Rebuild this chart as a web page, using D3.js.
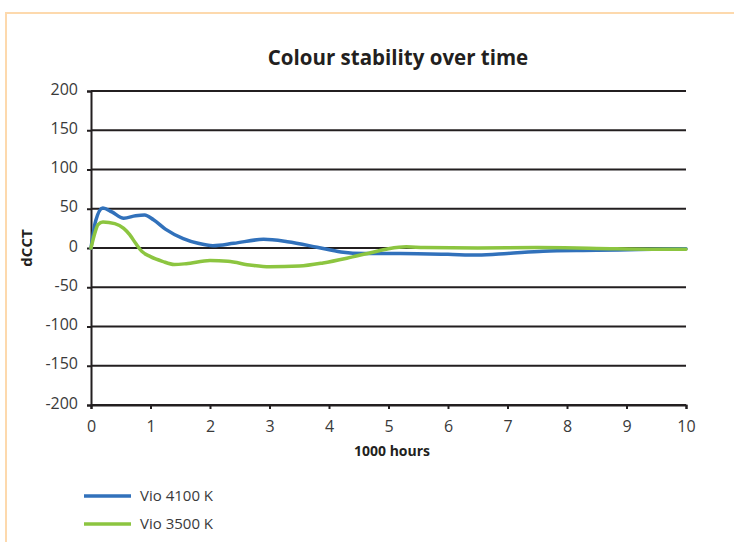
<!DOCTYPE html>
<html><head><meta charset="utf-8">
<script src="https://cdn.jsdelivr.net/npm/d3@7"></script>
<style>body{margin:0;background:#fff}svg{display:block}text{font-family:"Open Sans","Noto Sans",sans-serif}</style>
</head><body>
<script>
const title = "Colour stability over time";
const xTitle = "1000 hours";
const yTitle = "dCCT";
const seriesNames = ["Vio 4100 K", "Vio 3500 K"];
const seriesColors = ["#3171bb", "#8cc540"];
const xTicks = [0,1,2,3,4,5,6,7,8,9,10];
const yTicks = [-200,-150,-100,-50,0,50,100,150,200];
const vio4100 = [[0,0],[0.08,35],[0.2,51],[0.35,46],[0.55,38],[0.75,41],[0.9,42],[1.05,36],[1.25,24],[1.55,12],[1.8,6],[2.05,3],[2.4,6],[2.9,11],[3.3,8],[3.8,1],[4.2,-5],[4.6,-7],[5.2,-7],[6.0,-8],[6.5,-9],[7.0,-7],[7.6,-4],[8.5,-3],[9.2,-2],[10,-1]];
const vio3500 = [[0,0],[0.05,15],[0.12,30],[0.2,33],[0.4,31],[0.55,25],[0.65,17],[0.75,6],[0.85,-4],[1.0,-11],[1.2,-17],[1.4,-21],[1.6,-20],[2.0,-16],[2.3,-17],[2.7,-22],[3.0,-24],[3.5,-23],[3.9,-19],[4.3,-13],[4.7,-6],[5.0,-1],[5.3,1.5],[5.6,0.5],[6.5,0],[7.5,0.5],[8.5,-0.5],[9.5,-1.5],[10,-1.5]];
const series = [vio4100, vio3500];

const W=734,H=542;
const svg=d3.select("body").append("svg").attr("width",W).attr("height",H);
svg.append("path").attr("d","M6,542V13H734").attr("fill","none").attr("stroke","#fdd9ad").attr("stroke-width",2);

const x=d3.scaleLinear().domain([0,10]).range([91,686]);
const y=d3.scaleLinear().domain([-200,200]).range([405,91]);

svg.append("g").selectAll("line").data(yTicks).join("line")
  .attr("x1",x(0)).attr("x2",x(10)).attr("y1",d=>y(d)).attr("y2",d=>y(d))
  .attr("stroke","#231f20").attr("stroke-width",2);

const fmt=d=>String(d);
const ya=svg.append("g").attr("transform",`translate(${x(0)},0)`)
  .call(d3.axisLeft(y).tickValues(yTicks).tickFormat(fmt).tickSize(4).tickPadding(9));
const xa=svg.append("g").attr("transform",`translate(0,${y(-200)})`)
  .call(d3.axisBottom(x).tickValues(xTicks).tickFormat(fmt).tickSize(4).tickPadding(12));
[ya,xa].forEach(g=>{
  g.select(".domain").attr("stroke","#231f20").attr("stroke-width",2);
  g.selectAll(".tick line").attr("stroke","#231f20").attr("stroke-width",2);
  g.selectAll(".tick text").attr("fill","#3a3a3a").style("font-size","16px").style("font-family","'Open Sans',sans-serif");
});
ya.selectAll(".tick text").attr("dy","0.2em");

const line=d3.line().x(d=>x(d[0])).y(d=>y(d[1])).curve(d3.curveMonotoneX);
series.forEach((s,i)=>{
  svg.append("path").datum(s).attr("d",line).attr("fill","none")
    .attr("stroke",seriesColors[i]).attr("stroke-width",3.5).attr("stroke-linejoin","round").attr("stroke-linecap","round");
});

svg.append("text").attr("x",398).attr("y",65).attr("text-anchor","middle")
  .style("font-size","20.5px").style("font-weight","bold").attr("fill","#231f20").text(title);
svg.append("text").attr("x",392).attr("y",456).attr("text-anchor","middle")
  .style("font-size","14px").style("font-weight","bold").attr("fill","#231f20").text(xTitle);
svg.append("text").attr("transform","translate(32,248) rotate(-90)").attr("text-anchor","middle")
  .style("font-size","15px").style("font-weight","bold").attr("fill","#231f20").text(yTitle);

const leg=svg.append("g");
seriesNames.forEach((n,i)=>{
  const yy=496+i*28;
  leg.append("line").attr("x1",84).attr("x2",131).attr("y1",yy).attr("y2",yy).attr("stroke",seriesColors[i]).attr("stroke-width",3.5);
  leg.append("text").attr("x",140).attr("y",yy+5).style("font-size","15px").attr("fill","#3a3a3a").text(n);
});
</script>
</body></html>
